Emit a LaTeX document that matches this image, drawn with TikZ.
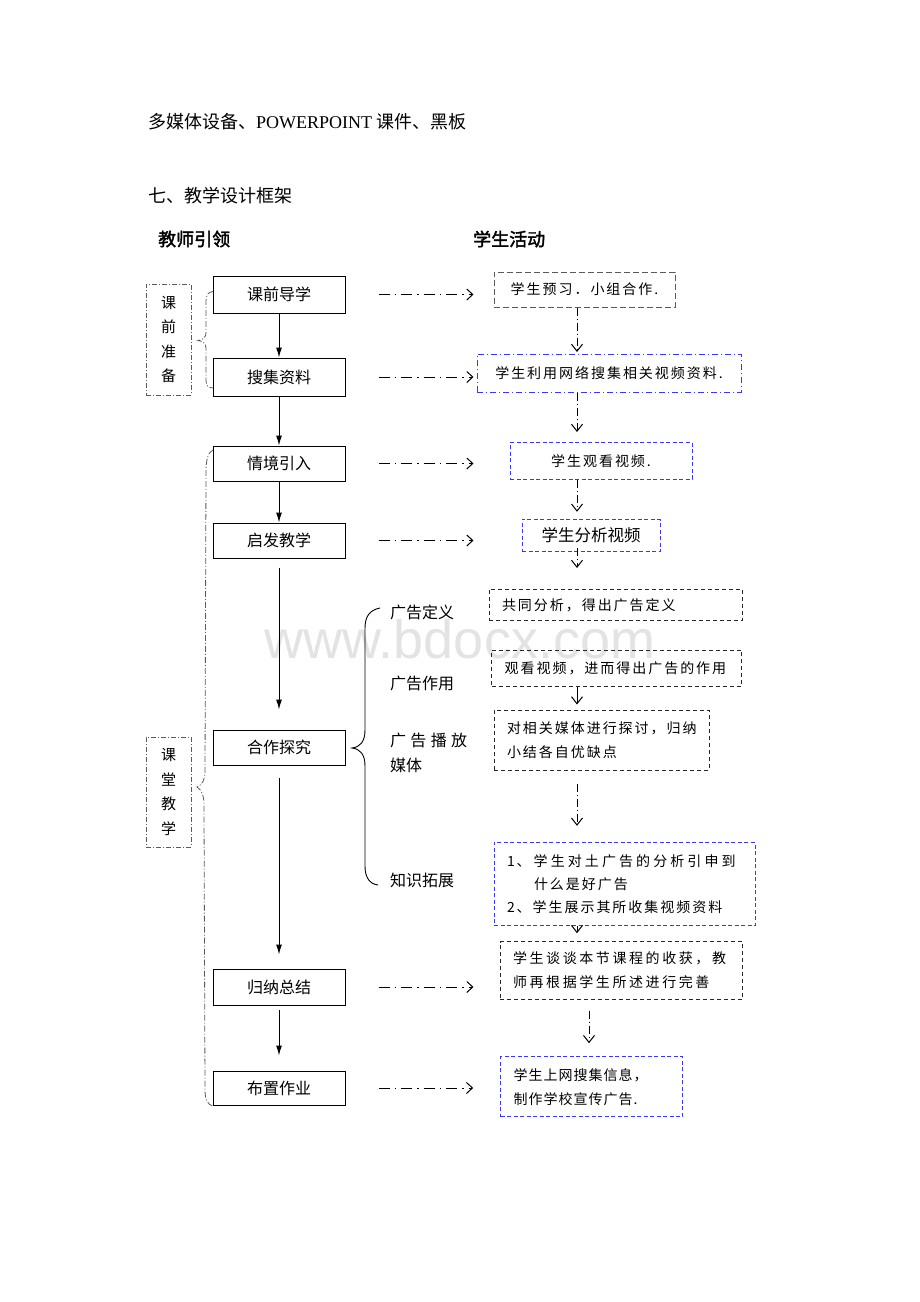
\documentclass[tikz,border=0pt]{standalone}
\usepackage{fontspec}
\setmainfont{Liberation Serif}
\newfontfamily\cjk{Noto Sans CJK SC}
\newfontfamily\cjksp[LetterSpace=14]{Noto Sans CJK SC}
\newfontfamily\cjkbf[FakeBold=2]{Noto Sans CJK SC}
\newfontfamily\wmfont{Liberation Sans}
\usetikzlibrary{arrows.meta}
\definecolor{rblue}{RGB}{55,55,245}
\definecolor{rgray}{RGB}{90,90,90}
\tikzstyle{heading}=[anchor=west,inner sep=0pt,font=\fontsize{18}{20}\selectfont]
\tikzstyle{teacher}=[draw,line width=1pt,minimum width=132pt,inner sep=0pt,font=\cjk\fontsize{16}{18}\selectfont]
\tikzstyle{student}=[draw=black!85,line width=1pt,dash pattern=on 4pt off 3pt,align=left,inner xsep=13pt,inner ysep=0pt,font=\cjksp\fontsize{14}{24}\selectfont]
\tikzstyle{bluebox}=[student,draw=rblue,dash pattern=on 4pt off 2.5pt]
\tikzstyle{phase}=[draw=rgray,line width=0.8pt,dash pattern=on 5pt off 2pt on 1pt off 2pt,minimum width=45pt,inner sep=0pt,align=center,font=\cjk\fontsize{15}{24.5}\selectfont]
\tikzstyle{topic}=[anchor=west,inner sep=0pt,font=\cjk\fontsize{16}{25}\selectfont]
\tikzstyle{bracket}=[draw=rgray,line width=0.8pt,dash pattern=on 6pt off 2pt on 1pt off 2pt]
\tikzstyle{leads}=[-{Latex[length=10pt,width=6pt]},line width=1pt]
\tikzstyle{goes}=[-{Straight Barb[length=6pt,width=11pt]},line width=1pt,dash pattern=on 11pt off 5pt on 1.5pt off 5pt]
\tikzstyle{follows}=[-{Straight Barb[length=7pt,width=11pt]},line width=1pt,dash pattern=on 8pt off 3pt on 1pt off 3pt]

\begin{document}
\begin{tikzpicture}[x=1pt,y=-1pt]
  \useasboundingbox[fill=white] (0,0) rectangle (920,1302);
  \node[anchor=base,inner sep=0pt,text height=36pt,text depth=0pt,text=black!11,font=\wmfont\fontsize{54}{60}\selectfont] (mark) at (460,658) {www.bdocx.com};

  \node[heading] (equip) at (148,122) {{\cjk 多媒体设备、}POWERPOINT {\cjk 课件、黑板}};
  \node[heading] (frame) at (148,196) {\cjk 七、教学设计框架};
  \node[heading] (lead)  at (158,239) {\cjkbf 教师引领};
  \node[heading] (act)   at (473,239) {\cjkbf 学生活动};

  % teacher column
  \node[teacher,minimum height=37pt] (pre)      at (279,294.5) {课前导学};
  \node[teacher,minimum height=38pt] (collect)  at (279,377)   {搜集资料};
  \node[teacher,minimum height=35pt] (intro)    at (279,463.5) {情境引入};
  \node[teacher,minimum height=35pt] (inspire)  at (279,540.5) {启发教学};
  \node[teacher,minimum height=35pt] (explore)  at (279,747.5) {合作探究};
  \node[teacher,minimum height=36pt] (summary)  at (279,987)   {归纳总结};
  \node[teacher,minimum height=34pt] (homework) at (279,1088)  {布置作业};

  \node[phase,minimum height=111pt] (prep)  at (168.5,339.5) {课\\前\\准\\备};
  \node[phase,minimum height=110pt] (class) at (168.5,792)   {课\\堂\\教\\学};

  % student column
  \node[student,draw=rgray,dash pattern=on 6pt off 3pt,align=center,minimum width=181pt,minimum height=35pt] (preview) at (584.5,289.5) {学生预习．小组合作.};
  \node[bluebox,dash pattern=on 6pt off 3pt on 1pt off 3pt,align=center,inner xsep=10pt,minimum width=264pt,minimum height=38pt] (scan) at (609,373) {学生利用网络搜集相关视频资料.};
  \node[bluebox,align=center,minimum width=182pt,minimum height=36.5pt] (watch) at (601,460.75) {学生观看视频.};
  \node[bluebox,align=center,font=\cjk\fontsize{16.5}{20}\selectfont,minimum width=138pt,minimum height=32.4pt] (analyse) at (591,535.5) {学生分析视频};
  \node[student,text width=227pt,minimum height=31.7pt] (define)  at (615.5,604.85) {共同分析，得出广告定义};
  \node[student,text width=224pt,minimum height=36pt]   (role)    at (616.7,668)    {观看视频，进而得出广告的作用};
  \node[student,text width=189pt,minimum height=60pt]   (channel) at (601.5,740)    {对相关媒体进行探讨，归纳\\小结各自优缺点};
  \node[bluebox,text width=235pt,minimum height=83.4pt,font=\cjksp\fontsize{14}{23}\selectfont] (extend) at (624.5,884)
    {1、\hspace{3pt}{\addfontfeature{LetterSpace=22}学生对土广告的分析引申到}\\\hspace*{27pt}什么是好广告\\2、学生展示其所收集视频资料};
  \node[student,text width=216.7pt,minimum height=57.3pt,font={\cjksp\fontsize{14}{24}\selectfont\addfontfeature{LetterSpace=18.5}}] (review) at (621.35,970.35) {学生谈谈本节课程的收获，教\\师再根据学生所述进行完善};
  \node[bluebox,text width=156pt,minimum height=60pt,font={\cjksp\fontsize{14}{24}\selectfont\addfontfeature{LetterSpace=7}}] (task) at (591.7,1086.7) {学生上网搜集信息，\\制作学校宣传广告.};

  % brace labels
  \node[topic] (defn)   at (390,612) {广告定义};
  \node[topic] (func)   at (390,683) {广告作用};
  \node[topic,align=left] (medium) at (390,752.5) {广\hspace{4.3pt}告\hspace{4.3pt}播\hspace{4.3pt}放\\媒体};
  \node[topic] (ext)    at (390,880) {知识拓展};

  % braces
  \draw[line width=0.9pt] (380,608) .. controls (370,610) and (365,616) .. (365,628) -- (365,730)
    .. controls (365,742) and (360,747) .. (352,748) .. controls (360,749) and (365,754) .. (365,766)
    -- (365,866) .. controls (365,878) and (370,884) .. (378,885);
  \draw[bracket] (213,291.5) .. controls (208,292) and (206,295) .. (206,301) -- (206,333)
    .. controls (206,337) and (203,340) .. (198,340.5) .. controls (203,341) and (206,344) .. (206,348)
    -- (206,380) .. controls (206,385) and (208,388) .. (213,388);
  \draw[bracket] (213,450) .. controls (208,452) and (206,460) .. (206,472) -- (205,772)
    .. controls (205,780) and (202,785) .. (197,787) .. controls (202,790) and (204,796) .. (204,806)
    -- (205,1090) .. controls (205,1100) and (208,1105) .. (213,1106);

  % teacher flow
  \draw[leads] (pre) -- (collect);
  \draw[leads] (collect) -- (intro);
  \draw[leads] (intro) -- (inspire);
  \draw[leads,shorten <=9pt,shorten >=20pt] (inspire) -- (explore);
  \draw[leads,shorten <=12pt,shorten >=14pt] (explore) -- (summary);
  \draw[leads,shorten <=4pt,shorten >=15pt] (summary) -- (homework);

  % teacher to student
  \draw[goes,shorten <=33pt,shorten >=20pt] (pre) -- (pre -| preview.west);
  \draw[goes,shorten <=33pt,shorten >=3pt] (collect) -- (collect -| scan.west);
  \draw[goes,shorten <=33pt,shorten >=36pt] (intro) -- (intro -| watch.west);
  \draw[goes,shorten <=33pt,shorten >=48pt] (inspire) -- (inspire -| analyse.west);
  \draw[goes,shorten <=33pt,shorten >=26pt] (summary) -- (summary -| review.west);
  \draw[goes,shorten <=33pt,shorten >=27pt] (homework) -- (homework -| task.west);

  % student flow
  \coordinate (lane) at (577,0);
  \coordinate (lane2) at (589,0);
  \coordinate (gap) at (577,568);
  \draw[follows,shorten >=1.5pt] (preview.south -| lane) -- (scan.north -| lane);
  \draw[follows,shorten >=10pt] (scan.south -| lane) -- (watch.north -| lane);
  \draw[follows,shorten >=7pt] (watch.south -| lane) -- (analyse.north -| lane);
  \draw[follows,shorten <=-4pt] (analyse.south -| lane) -- (gap);
  \draw[-{Straight Barb[length=7pt,width=11pt]},line width=1pt,shorten >=5pt] (role.south -| lane) -- (channel.north -| lane);
  \draw[follows,shorten <=13pt,shorten >=16pt] (channel.south -| lane) -- (extend.north -| lane);
  \draw[follows,shorten >=8pt] (extend.south -| lane) -- (review.north -| lane);
  \draw[follows,shorten <=11pt,shorten >=13pt] (review.south -| lane2) -- (task.north -| lane2);
\end{tikzpicture}
\end{document}
